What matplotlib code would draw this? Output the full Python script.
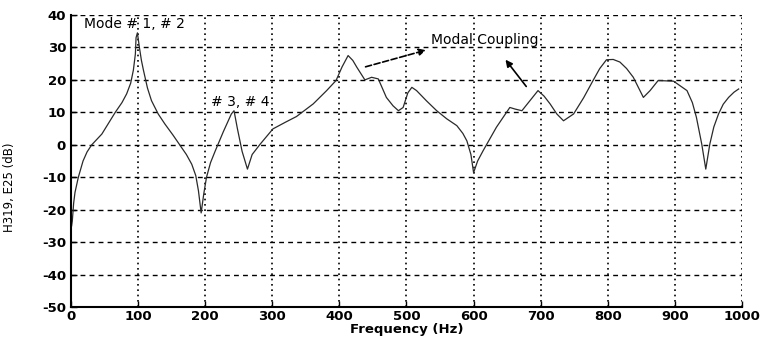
import numpy as np
import matplotlib.pyplot as plt

# frequency response
freq = [1, 2, 4, 6, 11, 18, 24, 31, 46, 66, 76, 83, 89, 93, 96, 97, 99, 102, 105, 108, 114, 120, 130,
        140, 152, 162, 172, 180, 186, 190, 194, 198, 202, 208, 215, 227, 239, 243, 248, 255, 263, 270,
        282, 301, 320, 336, 361, 381, 395, 404, 413, 420, 426, 438, 448, 458, 470, 480, 488, 495, 502,
        508, 515, 530, 545, 560, 575, 584, 590, 596, 600, 606, 614, 634, 654, 662, 672, 684, 696, 705,
        714, 724, 734, 749, 764, 778, 788, 798, 808, 818, 828, 838, 853, 863, 875, 898, 918, 926, 932,
        940, 946, 952, 958, 965, 972, 980, 988, 995]
mag = [-25, -23.5, -18, -14.7, -10, -5, -2.2, 0, 3.3, 10, 13, 15.7, 19, 23, 28, 33, 34.5, 30, 26, 23,
       17.5, 13.6, 9.5, 6.4, 3, 0, -3, -6, -9.5, -14.2, -21, -15, -10, -5.5, -1.9, 4, 9.5, 10.5, 5,
       -2, -7.5, -3, 0.2, 4.9, 7, 8.7, 12.6, 16.7, 19.8, 24, 27.5, 26, 23.9, 20, 20.8, 20.3, 14.6,
       12, 10.5, 11.5, 16, 17.7, 16.7, 13.5, 10.5, 8, 5.9, 3.5, 1.2, -3, -8.6, -5, -1.9, 5.4, 11.5,
       11, 10.5, 13.6, 16.7, 15, 12.6, 9.5, 7.4, 9.5, 14.5, 19.8, 23.5, 26.2, 26.3, 25.5, 23.5, 20.8,
       14.6, 16.7, 19.8, 19.6, 16.7, 13, 8.5, 0.2, -7.5, 0.2, 5.5, 9.5, 12.5, 14.6, 16.2, 17.2]

xticks = np.arange(0, 1001, 100)
yticks = np.arange(-50, 41, 10)

plt.rcParams['font.family'] = 'DejaVu Sans'
plt.rcParams['axes.unicode_minus'] = False
fig = plt.figure(figsize=(7.63, 3.37), dpi=100)
ax = fig.add_axes([0.093, 0.089, 0.8795, 0.8665])

ax.plot(freq, mag, color='#2a2a2a', lw=0.9)

ax.set_xlim(0, 1000)
ax.set_ylim(-50, 40)
ax.set_xticks(xticks)
ax.set_yticks(yticks)
ax.tick_params(direction='in', length=4, width=1, labelsize=9.5)
ax.tick_params(axis='x', pad=2)
for lab in ax.get_xticklabels() + ax.get_yticklabels():
    lab.set_fontweight('bold')

for y in yticks[1:-1]:
    ax.axhline(y, color='black', lw=1.0, ls=(0, (3.5, 3)), zorder=0)
for x in xticks[1:-1]:
    ax.axvline(x, color='black', lw=1.2, ls=(0, (1, 2.2)), zorder=0)
ax.axhline(40, color='black', lw=1.0, ls=(0, (3.5, 3)), zorder=0)
ax.axvline(1000, color='black', lw=1.2, ls=(0, (1, 2.2)), zorder=0)

for s in ['top', 'right']:
    ax.spines[s].set_visible(False)
ax.spines['left'].set_linewidth(1.5)
ax.spines['bottom'].set_linewidth(1.5)

ax.set_xlabel('Frequency (Hz)', fontsize=9.5, fontweight='bold')
ax.xaxis.set_label_coords(0.5, -0.056)
ax.set_ylabel('H319, E25 (dB)', fontsize=8.5)
ax.yaxis.set_label_coords(-0.082, 0.41)

ax.text(20, 37.3, 'Mode # 1, # 2', fontsize=10, va='center')
ax.text(208, 13.3, '# 3, # 4', fontsize=10, va='center')
ax.text(537, 32.3, 'Modal Coupling', fontsize=10, va='center')

ax.annotate('', xy=(533, 29.4), xytext=(435, 23.8),
            arrowprops=dict(arrowstyle='-|>', ls='--', lw=1.2, color='black', mutation_scale=10))
ax.annotate('', xy=(645, 26.9), xytext=(681, 17.3),
            arrowprops=dict(arrowstyle='-|>', lw=1.2, color='black', mutation_scale=10))

fig.savefig('out.png', dpi=100)
